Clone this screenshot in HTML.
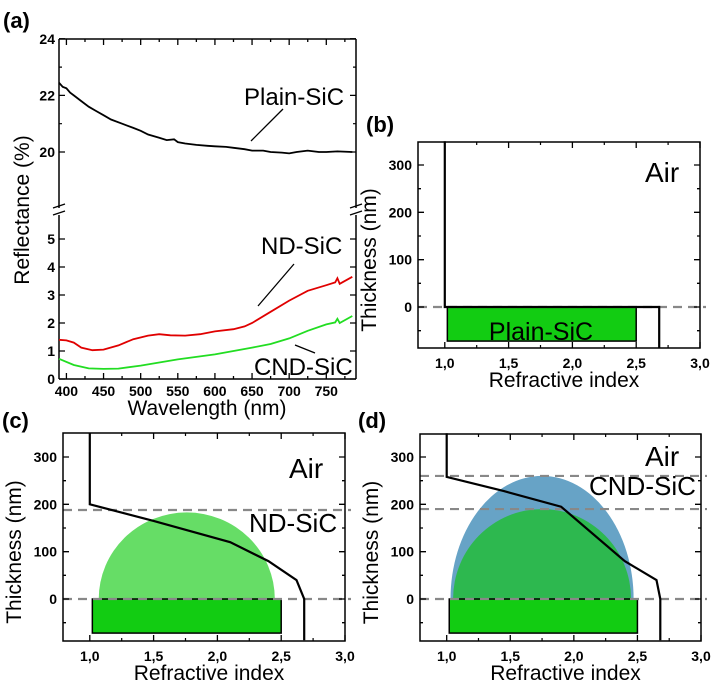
<!DOCTYPE html>
<html><head><meta charset="utf-8"><style>
body{margin:0;background:#fff}
svg{display:block;font-family:"Liberation Sans",sans-serif}
.tk{font-weight:bold;font-size:14px}
.ti{font-size:21px}
.an{font-size:24px}
.pl{font-size:22px;font-weight:bold}
</style></head><body>
<svg id="fig" width="717" height="689" viewBox="0 0 717 689" xmlns="http://www.w3.org/2000/svg">
<text x="3" y="28" class="pl">(a)</text>
<text x="366" y="132" class="pl">(b)</text>
<text x="2" y="428" class="pl">(c)</text>
<text x="358" y="428" class="pl">(d)</text>
<g id="pa"></g>
<g id="pb"></g>
<g id="pc"></g>
<g id="pd"></g>
</svg>
<script>
// ---- Panel (a) data ----
const plainWl = [390,395,400,405,410,420,430,440,450,460,475,490,500,510,525,535,545,550,560,575,590,600,615,625,640,650,665,675,690,700,710,725,740,750,765,785];
const plainR  = [22.45,22.3,22.25,22.1,22.0,21.8,21.6,21.45,21.3,21.15,21.0,20.85,20.75,20.62,20.5,20.42,20.45,20.35,20.3,20.25,20.22,20.2,20.18,20.15,20.1,20.05,20.05,20.0,19.98,19.95,20.0,20.05,20.0,20.0,20.02,20.0];
const ndWl = [390,400,410,420,435,450,470,490,510,525,540,560,580,600,625,640,650,675,700,725,750,762,765,768,785];
const ndR  = [1.4,1.38,1.3,1.12,1.03,1.05,1.2,1.42,1.55,1.6,1.56,1.55,1.6,1.7,1.78,1.88,2.0,2.4,2.8,3.15,3.35,3.45,3.6,3.4,3.65];
const cndWl = [390,410,430,450,470,500,550,600,650,675,700,725,750,762,765,768,785];
const cndR  = [0.72,0.5,0.38,0.36,0.37,0.48,0.7,0.88,1.12,1.25,1.45,1.72,1.95,2.02,2.15,2.0,2.25];
const aXTicks = [400,450,500,550,600,650,700,750];
const aYLow = [0,1,2,3,4,5];
const aYHigh = [20,22,24];
// ---- Panels (b)-(d) data ----
const idxXTicks = [1.0,1.5,2.0,2.5,3.0];
const idxXLabels = ["1,0","1,5","2,0","2,5","3,0"];
const idxYTicks = [0,100,200,300];
const profileBn = [1.0,1.0,1.02,2.68,2.68];
const profileBt = [350,0,0,0,-87];
const profileCn = [1.0,1.0,1.5,2.1,2.4,2.62,2.68,2.68];
const profileCt = [350,200,165,120,80,40,0,-87];
const profileDn = [1.0,1.0,1.45,1.9,2.4,2.65,2.68,2.68];
const profileDt = [350,258,228,195,80,40,0,-87];
const substrate = [1.02,2.5,-72]; // n start, n end, depth
const domeC = [1.07,2.45,183];
const domeDouter = [1.03,2.47,260];
const domeDinner = [1.05,2.45,190];
const dashC = [0,188];
const dashD = [0,190,260];

const NS="http://www.w3.org/2000/svg";
function mk(p,tag,at,txt){const e=document.createElementNS(NS,tag);for(const k in at)e.setAttribute(k,at[k]);if(txt!==undefined)e.textContent=txt;p.appendChild(e);return e;}

// ---- Panel (a) ----
(function(){
 const g=document.getElementById('pa');
 const L=59,R=356,T=39,B=379;
 const X=w=>L+(w-390)/(790-390)*(R-L);
 const Y=v=>v<10? B-28*v : 152-28.3*(v-20);
 function line(wl,r,col,name){
  let d=wl.map((w,i)=>(i?'L':'M')+X(w).toFixed(1)+','+Y(r[i]).toFixed(1)).join('');
  const e=mk(g,'path',{d:d,fill:'none',stroke:col,'stroke-width':1.8});
  
  
 }
 const ax=mk(g,'path',{d:`M${L},${T}H${R}M${L},${B}H${R}M${L},${T}V208M${L},215V${B}M${R},${T}V208M${R},215V${B}`,stroke:'#000','stroke-width':1.5,fill:'none'});
 
 const br=mk(g,'path',{d:`M${L-6},208l12,-4M${L-6},215l12,-4M${R-6},208l12,-4M${R-6},215l12,-4`,stroke:'#000','stroke-width':1.3});
 
 aXTicks.forEach(w=>{const x=X(w);
  mk(g,'path',{d:`M${x},${B}v-6M${x},${T}v6M${x+X(25)-X(0)},${B}v-3M${x+X(25)-X(0)},${T}v3`,stroke:'#000','stroke-width':1.3});
  const t=mk(g,'text',{x:x,y:B+17,'text-anchor':'middle',class:'tk'},w);
  
 });
 aYLow.concat(aYHigh).forEach(v=>{const y=Y(v);
  mk(g,'path',{d:`M${L},${y}h6M${R},${y}h-6`,stroke:'#000','stroke-width':1.3});
  const t=mk(g,'text',{x:L-4,y:y+5,'text-anchor':'end',class:'tk'},v);
  
 });
 [21,23].forEach(v=>mk(g,'path',{d:`M${L},${Y(v)}h3M${R},${Y(v)}h-3`,stroke:'#000','stroke-width':1.2}));
 line(plainWl,plainR,'#000','plain-sic-line');
 line(ndWl,ndR,'#e00000','nd-sic-line');
 line(cndWl,cndR,'#22dd22','cnd-sic-line');
 const a1=mk(g,'text',{x:244,y:105,class:'an'},'Plain-SiC');
 mk(g,'line',{x1:251,y1:141,x2:283,y2:109,stroke:'#000','stroke-width':1.3});
 const a2=mk(g,'text',{x:261,y:254,class:'an'},'ND-SiC');
 mk(g,'line',{x1:258,y1:306,x2:294,y2:264,stroke:'#000','stroke-width':1.3});
 const a3=mk(g,'text',{x:254,y:375,class:'an'},'CND-SiC');
 mk(g,'line',{x1:295,y1:345,x2:315,y2:353,stroke:'#000','stroke-width':1.3});
 const yt=mk(g,'text',{x:0,y:0,class:'ti','text-anchor':'middle',transform:'translate(29,210) rotate(-90)'},'Reflectance (%)');
 
 const xt=mk(g,'text',{x:207,y:415,class:'ti','text-anchor':'middle'},'Wavelength (nm)');
 
})();

// ---- Index panels ----
function idxPanel(id,L,R,T,B,y0,pn,pt,domes,dashes,labels){
 const g=document.getElementById(id);
 const X=n=>L+(n-0.79)/(3.0-0.79)*(R-L);
 const Y=t=>y0-t*142/300;
 domes.forEach(dm=>{
  const rx=(X(dm[1])-X(dm[0]))/2, ry=y0-Y(dm[2]);
  const e=mk(g,'path',{d:`M${X(dm[0])},${y0}A${rx},${ry} 0 0 1 ${X(dm[1])},${y0}Z`,fill:dm[3]});
  
 });
 const s=mk(g,'rect',{x:X(substrate[0]),y:y0,width:X(substrate[1])-X(substrate[0]),height:Y(substrate[2])-y0,fill:'#12cc12',stroke:'#000','stroke-width':1.5});
 
 dashes.forEach(t=>{const e=mk(g,'line',{x1:L,x2:R+6,y1:Y(t),y2:Y(t),stroke:'#888','stroke-width':2.2,'stroke-dasharray':'9,6'});
  });
 const d=pn.map((n,i)=>(i?'L':'M')+X(n).toFixed(1)+','+Y(pt[i]).toFixed(1)).join('');
 const p=mk(g,'path',{d:d,fill:'none',stroke:'#000','stroke-width':2.2});
 
 const f=mk(g,'rect',{x:L,y:T,width:R-L,height:B-T,fill:'none',stroke:'#000','stroke-width':1.5});
 
 idxXTicks.forEach((n,i)=>{const x=X(n);
  mk(g,'path',{d:`M${x},${B}v-6M${x},${T}v6`,stroke:'#000','stroke-width':1.3});
  if(n<3)mk(g,'path',{d:`M${X(n+0.25)},${B}v-3M${X(n+0.25)},${T}v3`,stroke:'#000','stroke-width':1.2});
  const t=mk(g,'text',{x:x,y:B+20,'text-anchor':'middle',class:'tk'},idxXLabels[i]);
  
 });
 idxYTicks.forEach(v=>{const y=Y(v);
  mk(g,'path',{d:`M${L},${y}h6M${R},${y}h-6M${L},${Y(v-50)}h3M${R},${Y(v-50)}h-3`,stroke:'#000','stroke-width':1.3});
  const t=mk(g,'text',{x:L-6,y:y+5,'text-anchor':'end',class:'tk'},v);
  
 });
 const xt=mk(g,'text',{x:(L+R)/2+5,y:B+39,class:'ti','text-anchor':'middle'},'Refractive index');
 
 const yt=mk(g,'text',{x:0,y:0,class:'ti','text-anchor':'middle',transform:`translate(${L-42},${(T+B)/2+15}) rotate(-90)`},'Thickness (nm)');
 
 labels.forEach(l=>{const t=mk(g,'text',{x:l[1],y:l[2],'font-size':l[3],'text-anchor':l[4]||'start'},l[0]);
  });
}
idxPanel('pb',418,700,142,348,307,profileBn,profileBt,[],[0],[['Air',645,182,28],['Plain-SiC',541,340,25,'middle']]);
idxPanel('pc',63,345,433,641,599,profileCn,profileCt,[[domeC[0],domeC[1],domeC[2],'#66dd66']],dashC,[['Air',289,478,28],['ND-SiC',249,532,26]]);
idxPanel('pd',420,701,434,641,599,profileDn,profileDt,[[domeDouter[0],domeDouter[1],domeDouter[2],'#67a3c6'],[domeDinner[0],domeDinner[1],domeDinner[2],'#2db84f']],dashD,[['Air',645,466,28],['CND-SiC',589,495,26]]);
</script>
</body></html>
